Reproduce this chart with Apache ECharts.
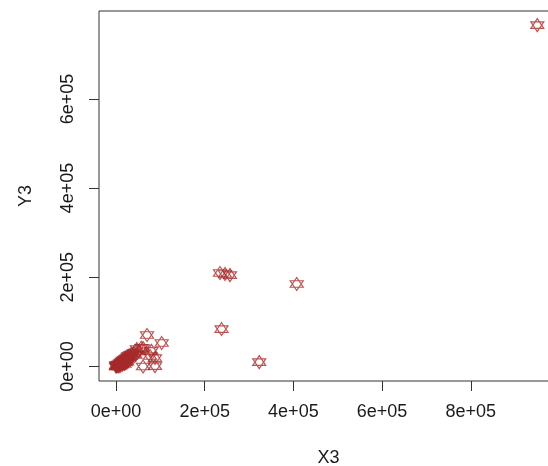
<!DOCTYPE html>
<html>
<head>
<meta charset="utf-8">
<script src="https://cdn.jsdelivr.net/npm/echarts@6/dist/echarts.min.js"></script>
<style>
  html, body { margin: 0; padding: 0; background: #ffffff; }
  #chart { width: 548px; height: 466px; }
</style>
</head>
<body>
<div id="chart"></div>
<script>
// X3 / Y3 observations
const xValues = [
  0, 500, 1000, 2000, 3000, 4000, 5000, 6000, 7000, 8000, 9000, 10000, 11000, 12000,
  13000, 14000, 15000, 16000, 17000, 18000, 19000, 20000, 21000, 22000, 23000, 24000,
  25000, 26000, 27000, 28000, 30000, 32000, 34000, 36000,
  40000, 47000, 52000, 44000, 57000,
  70000, 103000, 61000, 76700, 88000, 61000, 88000, 80000,
  234500, 245800, 257000, 407600, 238000, 323000, 950000
];
const yValues = [
  0, 3000, 500, 1500, 2000, 3000, 1000, 5000, 500, 4000, 7000, 2000, 9000, 6000,
  11000, 4000, 8000, 13000, 10000, 15000, 6000, 12000, 17000, 9000, 14000, 19000,
  11000, 21000, 16000, 24000, 20000, 26000, 23000, 28000,
  30000, 39000, 34000, 26000, 42000,
  70600, 52700, 41500, 23500, 19000, 0, 1000, 35000,
  209600, 207400, 205000, 185000, 84000, 10000, 765600
];

const xTicks = [0, 200000, 400000, 600000, 800000];
const xTickLabels = ['0e+00', '2e+05', '4e+05', '6e+05', '8e+05'];
const yTicks = [0, 200000, 400000, 600000];
const yTickLabels = ['0e+00', '2e+05', '4e+05', '6e+05'];

const points = xValues.map((x, i) => [x, yValues[i]]);

// hexagram marker: an upward and a downward triangle
const hexagram = 'path://M50,0 L100,75 L0,75 Z M0,25 L100,25 L50,100 Z';

const labelFont = { fontFamily: 'Liberation Sans, Arial, sans-serif', fontSize: 18, color: '#1a1a1a' };

const chart = echarts.init(document.getElementById('chart'), null, { renderer: 'canvas' });
chart.setOption({
  backgroundColor: '#ffffff',
  animation: false,
  grid: {
    left: 99, top: 11, width: 459, height: 370,
    outerBoundsMode: 'none', containLabel: false,
    show: true, borderColor: '#333333', borderWidth: 1, backgroundColor: 'transparent'
  },
  xAxis: {
    type: 'value',
    min: -38300, max: 996700,
    name: 'X3', nameLocation: 'middle', nameGap: 68,
    nameTextStyle: labelFont,
    axisLine: { show: false, onZero: false },
    splitLine: { show: false },
    axisTick: { show: true, length: 10, inside: false, customValues: xTicks,
      lineStyle: { color: '#333333', width: 1 } },
    axisLabel: { show: true, margin: 22, customValues: xTicks,
      formatter: v => xTickLabels[xTicks.indexOf(v)], ...labelFont }
  },
  yAxis: {
    type: 'value',
    min: -32500, max: 797100,
    name: 'Y3', nameLocation: 'middle', nameGap: 64, nameRotate: 90,
    nameTextStyle: labelFont,
    axisLine: { show: false, onZero: false },
    splitLine: { show: false },
    axisTick: { show: true, length: 10, inside: false, customValues: yTicks,
      lineStyle: { color: '#333333', width: 1 } },
    axisLabel: { show: true, margin: 22, rotate: 90, customValues: yTicks,
      formatter: v => yTickLabels[yTicks.indexOf(v)], ...labelFont }
  },
  series: [{
    type: 'scatter',
    data: points,
    symbol: hexagram,
    symbolSize: 13,
    itemStyle: { color: 'rgba(0,0,0,0)', borderColor: '#A52A2A', borderWidth: 1.2 },
    emphasis: { disabled: true }
  }]
});
</script>
</body>
</html>
